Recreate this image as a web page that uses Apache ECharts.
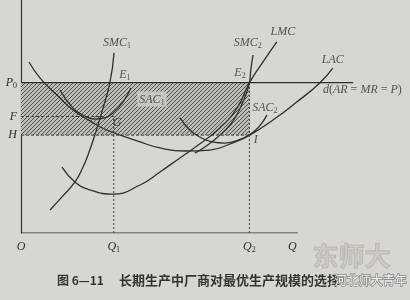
<!DOCTYPE html>
<html>
<head>
<meta charset="utf-8">
<script src="https://cdn.jsdelivr.net/npm/echarts@6/dist/echarts.min.js"></script>
<style>
html,body{margin:0;padding:0;background:#d6d6d2;}
#c{width:410px;height:300px;}
</style>
</head>
<body>
<div id="c"></div>
<script>
// ---- data (quantity Q, price/cost P) ----
const Q1 = 3.35, Q2 = 8.25, P0 = 6.45, F = 5.0, H = 4.2;
const Q_AXIS_END = 10, Q_VIEW_MAX = 14.05, P_MAX = 10, PRICE_LINE_END = 12;

const xTickValues = [0, Q1, Q2, 9.8];
const xTickLabels = ['{i|O}', '{i|Q}{s|1}', '{i|Q}{s|2}', '{i|Q}'];
const yTickValues = [P0, F, H];
const yTickLabels = ['{i|P}{s|0}', '{i|F}', '{i|H}'];

const LAC = [[0.29,7.34],[0.69,6.65],[1.30,5.92],[1.88,5.28],[2.49,4.81],[3.10,4.42],[4.30,3.91],[5.02,3.65],[5.92,3.52],[6.82,3.56],[7.55,3.82],[8.23,4.18],[9.10,4.85],[9.96,5.62],[10.79,6.44],[11.26,7.08]];
const LMC = [[1.48,2.83],[1.95,2.19],[2.49,1.85],[3.32,1.67],[4.30,2.06],[5.02,2.62],[5.74,3.22],[6.35,3.73],[7.18,4.51],[7.80,5.36],[8.25,6.45],[8.74,7.34],[9.24,8.20]];
const SMC1 = [[1.05,0.99],[1.48,1.55],[1.95,2.19],[2.24,2.83],[2.42,3.35],[2.67,4.21],[2.92,5.19],[3.21,6.45],[3.36,7.73]];
const SAC1 = [[1.41,6.14],[1.88,5.36],[2.31,5.02],[2.67,4.89],[3.03,4.94],[3.32,5.15],[3.68,5.62],[3.97,6.22]];
const SAC2 = [[5.74,4.94],[6.10,4.42],[6.46,4.12],[6.90,3.91],[7.36,3.86],[7.80,3.97],[8.16,4.15],[8.48,4.42],[8.70,4.72],[8.88,5.06]];
const SMC2 = [[6.28,3.43],[6.64,3.69],[7.11,4.12],[7.55,4.64],[7.83,5.15],[8.09,5.84],[8.25,6.45],[8.30,7.0],[8.38,7.64]];

const annotationTexts = ['{i|SMC}{s|1}', '{i|E}{s|1}', '{i|SAC}{s|1}', '{i|G}', '{i|SMC}{s|2}', '{i|LMC}',
  '{i|E}{s|2}', '{i|LAC}', '{i|d}{u|(}{i|AR}{u| = }{i|MR}{u| = }{i|P}{u|)}', '{i|SAC}{s|2}', '{i|I}'];
const annotationQ = [3.47, 3.75, 4.73, 3.47, 8.19, 9.46, 7.91, 11.26, 12.33, 8.81, 8.48];
const annotationP = [8.15, 6.78, 5.75, 4.72, 8.15, 8.63, 6.87, 7.42, 6.14, 5.36, 3.99];

const captionNumber = '图 6—11';
const captionText = '长期生产中厂商对最优生产规模的选择';
const watermark = '河北师大青年';

// ---- styles ----
const INK = '#2f2f2f';
const serif = '"Liberation Serif", "DejaVu Serif", serif';
const rich = {
  i: {fontFamily: serif, fontStyle: 'italic', fontSize: 12, color: INK, lineHeight: 14, verticalAlign: 'middle'},
  s: {fontFamily: serif, fontSize: 8, color: INK, lineHeight: 8, verticalAlign: 'bottom', padding: [6,0,0,0]},
  u: {fontFamily: serif, fontSize: 12, color: INK, lineHeight: 14}
};

// hatch pattern
const pc = document.createElement('canvas');
pc.width = 4; pc.height = 4;
const g = pc.getContext('2d');
g.fillStyle = '#bdbdb8'; g.fillRect(0,0,4,4);
g.strokeStyle = '#505050'; g.lineWidth = 1;
g.beginPath();
g.moveTo(-1,5); g.lineTo(5,-1);
g.moveTo(-1,1); g.lineTo(1,-1);
g.moveTo(3,5); g.lineTo(5,3);
g.stroke();

function curve(name, data) {
  return {name, type: 'line', data, smooth: 0.5, symbol: 'none', z: 4,
    lineStyle: {color: INK, width: 1.3}, silent: true};
}
function guide(data, type, color, width) {
  return {type: 'line', data, symbol: 'none', z: 3, silent: true,
    lineStyle: {color: color || '#444', width: width || 1, type: type}};
}
function nearestIdx(arr, v) {
  let b = 0;
  arr.forEach((a, k) => { if (Math.abs(a - v) < Math.abs(arr[b] - v)) b = k; });
  return b;
}

const chart = echarts.init(document.getElementById('c'), null, {renderer: 'canvas'});
chart.setOption({
  backgroundColor: '#d6d6d2',
  animation: false,
  grid: {left: 21, right: 0, top: 0, bottom: 67},
  xAxis: {
    type: 'value', min: 0, max: Q_VIEW_MAX,
    splitLine: {show: false}, axisTick: {show: false},
    axisLine: {show: false},
    axisLabel: {customValues: xTickValues, margin: 7, rich,
      formatter: v => xTickLabels[nearestIdx(xTickValues, v)]}
  },
  yAxis: {
    type: 'value', min: 0, max: P_MAX,
    splitLine: {show: false}, axisTick: {show: false},
    axisLine: {lineStyle: {color: '#333', width: 1.2}},
    axisLabel: {customValues: yTickValues, margin: 4, rich,
      formatter: v => yTickLabels[nearestIdx(yTickValues, v)]}
  },
  series: [
    {type: 'line', data: [[0, P0], [PRICE_LINE_END, P0]], symbol: 'none', z: 2, silent: true,
      lineStyle: {color: INK, width: 1.3},
      markArea: {silent: true, itemStyle: {color: {image: pc, repeat: 'repeat'}},
        data: [[{coord: [0, H]}, {coord: [Q2, P0]}]]}},
    guide([[0, 0], [Q_AXIS_END, 0]], 'solid', '#333', 1.2),
    guide([[0, F], [Q1, F]], [3, 2]),
    guide([[0, H], [Q2, H]], [3, 2]),
    guide([[Q1, 0], [Q1, F]], [2, 2]),
    guide([[Q2, 0], [Q2, P0]], [2, 2]),
    curve('LAC', LAC),
    curve('LMC', LMC),
    curve('SMC1', SMC1),
    curve('SAC1', SAC1),
    curve('SAC2', SAC2),
    curve('SMC2', SMC2),
    {type: 'scatter', symbolSize: 0, z: 6, silent: true,
      data: annotationTexts.map((t, k) => {
        const item = {value: [annotationQ[k], annotationP[k]], name: t};
        if (k === 2) item.label = {backgroundColor: '#cfcfcb', padding: [1, 2, 0, 2]};
        return item;
      }),
      label: {show: true, position: 'inside', rich, formatter: p => p.name}}
  ],
  graphic: [
    {type: 'text', left: 57, top: 274, z: 10,
      style: {text: captionNumber, font: 'bold 12px "Noto Sans CJK SC"', fill: '#333'}},
    {type: 'text', left: 119, top: 274, z: 10,
      style: {text: captionText, font: 'bold 13px "Noto Sans CJK SC"', fill: '#333'}},
    {type: 'text', left: 312, top: 243, z: 9,
      style: {text: '东师大', font: 'bold 26px "Noto Sans CJK SC"', fill: 'rgba(170,160,150,0.22)', stroke: 'rgba(120,110,100,0.25)', lineWidth: 1}},
    {type: 'text', left: 334, top: 274, z: 11,
      style: {text: watermark, font: '12px "Noto Sans CJK SC"', fill: '#f2f2f2', stroke: '#8a8a8a', lineWidth: 1.5}}
  ]
});
</script>
</body>
</html>
